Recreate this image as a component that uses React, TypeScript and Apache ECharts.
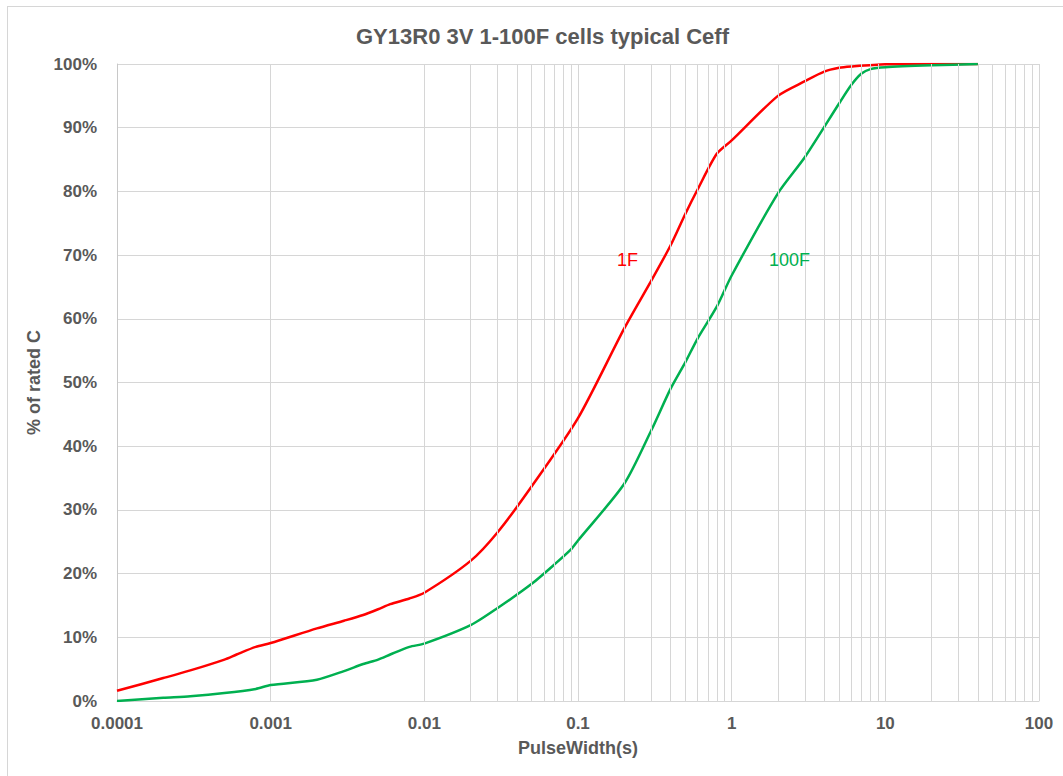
import React, { useEffect, useRef } from "react";
import * as echarts from "echarts";

const titleText = "GY13R0 3V 1-100F cells typical Ceff";
const xAxisName = "PulseWidth(s)";
const yAxisName = "% of rated C";

const pulseWidth1F = [
  0.0001, 0.0002, 0.0003, 0.0005, 0.0006, 0.0008, 0.001, 0.002, 0.003, 0.004,
  0.005, 0.006, 0.008, 0.01, 0.02, 0.03, 0.05, 0.1, 0.2, 0.3, 0.4, 0.5, 0.6,
  0.8, 1, 2, 3, 4, 5, 6, 10, 20, 40,
];
const ceff1F = [
  1.6, 3.6, 4.8, 6.5, 7.3, 8.5, 9.1, 11.4, 12.6, 13.5,
  14.4, 15.2, 16.1, 17.0, 22.0, 26.5, 33.7, 44.4, 58.5, 66.0, 71.5, 76.5, 80.3,
  85.9, 88.0, 95.0, 97.3, 98.8, 99.4, 99.6, 99.95, 100, 100,
];

const pulseWidth100F = [
  0.0001, 0.0002, 0.0003, 0.0005, 0.0008, 0.001, 0.002, 0.003, 0.004, 0.005,
  0.006, 0.008, 0.01, 0.02, 0.03, 0.05, 0.07, 0.09, 0.1, 0.2, 0.3, 0.4, 0.5,
  0.6, 0.8, 1, 2, 3, 5, 6, 7, 8, 10, 20, 40,
];
const ceff100F = [
  0.0, 0.5, 0.75, 1.25, 1.9, 2.5, 3.35, 4.7, 5.8, 6.5,
  7.3, 8.5, 9.0, 11.9, 14.6, 18.4, 21.4, 23.8, 25.2, 34.1, 42.5, 49.0, 53.2,
  56.9, 61.9, 66.8, 79.7, 85.4, 93.8, 96.7, 98.5, 99.2, 99.5, 99.8, 100,
];

const seriesNames = ["1F", "100F"];
const seriesColors = ["#ff0000", "#00b050"];
const labelPositions = [
  [0.21, 69.2],
  [2.38, 69.2],
];

const xMin = 0.0001;
const xMax = 100;
const decades = [0.0001, 0.001, 0.01, 0.1, 1, 10];
const minorSteps = [2, 3, 4, 5, 6, 7, 8, 9];

const FONT = "'Liberation Sans', Arial, sans-serif";
const TEXT = "#595959";
const GRID = "#d6d6d6";

export default function App() {
  const ref = useRef<HTMLDivElement>(null);

  useEffect(() => {
    if (!ref.current) return;
    const chart = echarts.init(ref.current, undefined, { renderer: "svg" });

    const minorLines: any[] = [];
    decades.forEach((d) => {
      minorSteps.forEach((m) => {
        minorLines.push({ xAxis: +(d * m).toPrecision(3) });
      });
    });

    const d1 = pulseWidth1F.map((x, i) => [x, ceff1F[i]]);
    const d2 = pulseWidth100F.map((x, i) => [x, ceff100F[i]]);

    const mkSeries = (idx: number, data: number[][]) => ({
      type: "line",
      name: seriesNames[idx],
      data,
      symbol: "none",
      showSymbol: false,
      smooth: 0.25,
      z: 3,
      lineStyle: { color: seriesColors[idx], width: 2.5 },
      itemStyle: { color: seriesColors[idx] },
      emphasis: { disabled: true },
      markPoint: {
        silent: true,
        symbol: "circle",
        symbolSize: 0,
        itemStyle: { color: "transparent" },
        label: {
          show: true,
          position: "inside",
          formatter: seriesNames[idx],
          color: seriesColors[idx],
          fontSize: 18,
          fontFamily: FONT,
          fontWeight: "normal",
        },
        data: [{ coord: labelPositions[idx], value: seriesNames[idx] }],
      },
    });

    chart.setOption({
      animation: false,
      backgroundColor: "#ffffff",
      title: {
        text: titleText,
        left: 351,
        top: 20,
        textStyle: {
          color: TEXT,
          fontSize: 22,
          fontWeight: "bold",
          fontFamily: FONT,
        },
      },
      grid: { left: 117, right: 24, top: 64, bottom: 75, containLabel: false },
      xAxis: {
        type: "log",
        logBase: 10,
        min: xMin,
        max: xMax,
        name: xAxisName,
        nameLocation: "middle",
        nameGap: 38,
        nameTextStyle: {
          color: TEXT,
          fontSize: 18,
          fontWeight: "bold",
          fontFamily: FONT,
        },
        axisLine: { show: true, lineStyle: { color: GRID, width: 1 } },
        axisTick: { show: false },
        axisLabel: {
          color: TEXT,
          fontSize: 17,
          fontWeight: "bold",
          fontFamily: FONT,
          margin: 14,
          formatter: (v: number) => String(+Number(v).toPrecision(6)),
        },
        splitLine: { show: true, lineStyle: { color: GRID, width: 1 } },
        minorSplitLine: { show: false },
      },
      yAxis: {
        type: "value",
        min: 0,
        max: 100,
        interval: 10,
        name: yAxisName,
        nameLocation: "middle",
        nameGap: 72,
        nameTextStyle: {
          color: TEXT,
          fontSize: 18,
          fontWeight: "bold",
          fontFamily: FONT,
        },
        axisLine: { show: true, lineStyle: { color: "#c8c8c8", width: 1 } },
        axisTick: { show: false },
        axisLabel: {
          color: TEXT,
          fontSize: 17,
          fontWeight: "bold",
          fontFamily: FONT,
          margin: 20,
          formatter: "{value}%",
        },
        splitLine: { show: true, lineStyle: { color: GRID, width: 1 } },
      },
      graphic: [
        {
          type: "line",
          silent: true,
          shape: { x1: 7.5, y1: 6, x2: 7.5, y2: 776 },
          style: { stroke: GRID, lineWidth: 1 },
        },
        {
          type: "line",
          silent: true,
          shape: { x1: 7, y1: 6.5, x2: 1063, y2: 6.5 },
          style: { stroke: GRID, lineWidth: 1 },
        },
      ],
      series: [
        {
          type: "line",
          name: "minor-grid",
          data: [],
          silent: true,
          z: 1,
          markLine: {
            silent: true,
            symbol: ["none", "none"],
            label: { show: false },
            emphasis: { disabled: true },
            lineStyle: { color: GRID, width: 1, type: "solid" },
            data: minorLines,
          },
        },
        mkSeries(0, d1),
        mkSeries(1, d2),
      ],
    });

    return () => {
      chart.dispose();
    };
  }, []);

  return (
    <div
      ref={ref}
      style={{
        position: "absolute",
        left: 0,
        top: 0,
        width: 1063,
        height: 776,
      }}
    />
  );
}
